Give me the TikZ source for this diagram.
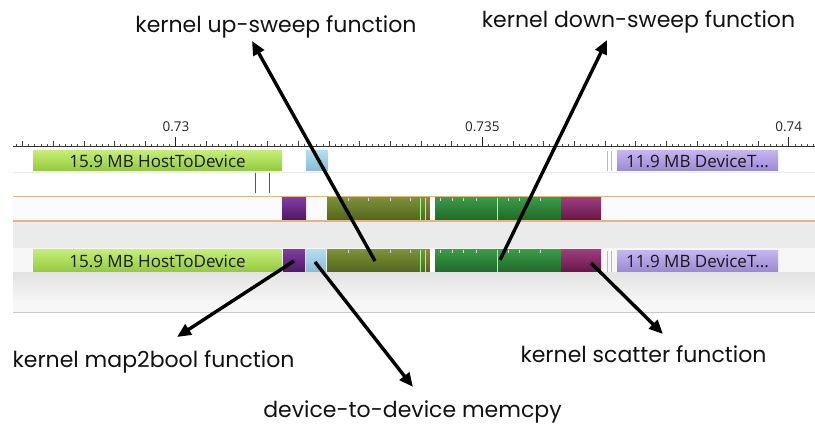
\documentclass[tikz,border=0pt]{standalone}
\usepackage{fontspec}
\setmainfont{Poppins}
\newfontfamily\uifont{Open Sans}
\usetikzlibrary{arrows.meta}
\definecolor{orangeln}{HTML}{E8B47C}
\definecolor{h2dtop}{HTML}{C4EC78}
\definecolor{h2dbot}{HTML}{92CA3C}
\definecolor{cpytop}{HTML}{B4DCEE}
\definecolor{cpybot}{HTML}{88BCD8}
\definecolor{m2btop}{HTML}{7E3CA0}
\definecolor{m2bbot}{HTML}{4E1868}
\definecolor{uptop}{HTML}{7C9038}
\definecolor{upbot}{HTML}{52661C}
\definecolor{dntop}{HTML}{3A9A46}
\definecolor{dnbot}{HTML}{1E6A2A}
\definecolor{sctop}{HTML}{9C3C7C}
\definecolor{scbot}{HTML}{661648}
\definecolor{d2htop}{HTML}{C4B4EE}
\definecolor{d2hbot}{HTML}{9A88D6}
\begin{document}
\begin{tikzpicture}[x=1pt,y=-1pt,
  blk/.style={inner sep=0pt, outer sep=0pt, draw=none, font=\uifont\fontsize{17}{17}\selectfont, text=black!90},
  h2d/.style={blk, top color=h2dtop, bottom color=h2dbot},
  cpy/.style={blk, top color=cpytop, bottom color=cpybot},
  m2b/.style={blk, top color=m2btop, bottom color=m2bbot},
  upk/.style={blk, top color=uptop, bottom color=upbot},
  dnk/.style={blk, top color=dntop, bottom color=dnbot},
  sck/.style={blk, top color=sctop, bottom color=scbot},
  d2h/.style={blk, top color=d2htop, bottom color=d2hbot},
  lbl/.style={anchor=base, inner sep=0pt, font=\fontsize{22}{22}\selectfont, text=black!93},
  tlbl/.style={inner sep=0pt, font=\uifont\fontsize{13.5}{13.5}\selectfont, text=black!85},
  pointer/.style={line width=3.4pt, -{Triangle[length=14pt,width=12pt]}},
  thinln/.style={line width=0.9pt, draw=gray!55},
  wt/.style={white!85!black, line width=0.8pt}]
\useasboundingbox (0,0) rectangle (815,438);
\fill[white] (0,0) rectangle (815,438);
% background bands
\draw[draw=black!8, line width=0.8pt] (13,172) -- (815,172);
\fill[black!7!blue!2] (13,196.5) rectangle (815,221);
\fill[black!8] (13,221) rectangle (815,248);
\fill[black!3] (13,248) rectangle (815,273);
\shade[top color=black!11, bottom color=black!4] (13,273) rectangle (815,300);
\draw[black!17, line width=0.8pt] (13,300) -- (815,300);
\fill[black!3] (13,300.5) rectangle (815,312);
\draw[blue!12!black!22, line width=0.8pt] (13,312.5) -- (815,312.5);
\draw[orangeln, line width=1.8pt] (13,196.5) -- (815,196.5);
\draw[orangeln, line width=1.8pt] (13,221) -- (815,221);
% axis
\draw[black!80, line width=0.9pt] (13,146.5) -- (815,146.5);
\foreach \i in {0,...,130} \draw[black!70, line width=0.6pt] (16.4+\i*6.13,146.5) -- ++(0,-2);
\foreach \j in {0,...,25} \draw[black!75, line width=0.7pt] (22.55+\j*30.65,146.5) -- ++(0,-5);
\foreach \x in {175.8,482.3,788.8} \draw[black!85, line width=0.9pt] (\x,146.5) -- ++(0,-9);
\node[tlbl] (t1) at (176,127) {0.73};
\node[tlbl] (t2) at (482.3,127) {0.735};
\node[tlbl] (t3) at (788.8,127) {0.74};
% row 1
\node[h2d, minimum width=249pt, minimum height=20pt] (h2da) at (157.5,161) {15.9 MB HostToDevice};
\node[cpy, minimum width=22pt, minimum height=20pt] (cpya) at (317,161) {};
\draw[thinln] (607,151) -- (607,171);
\draw[thinln] (611,151) -- (611,171);
\node[d2h, minimum width=161pt, minimum height=20pt] (d2ha) at (697.5,161) {11.9 MB DeviceT...};
% row 2
\draw[black!65, line width=0.9pt] (255,173) -- (255,193);
\draw[black!65, line width=0.9pt] (269,173) -- (269,193);
% row 3
\node[m2b, minimum width=24pt, minimum height=22pt] (m2ba) at (294,209) {};
\node[upk, minimum width=103pt, minimum height=22pt] (upa) at (378.5,209) {};
\node[dnk, minimum width=126pt, minimum height=22pt] (dna) at (498,209) {};
\node[sck, minimum width=40pt, minimum height=22pt] (sca) at (581,209) {};
% row 5
\node[h2d, minimum width=249pt, minimum height=22pt] (h2db) at (157.5,261) {15.9 MB HostToDevice};
\node[m2b, minimum width=22pt, minimum height=22pt] (m2bb) at (294,261) {};
\node[cpy, minimum width=20pt, minimum height=22pt] (cpyb) at (316,261) {};
\node[upk, minimum width=103pt, minimum height=22pt] (upb) at (378.5,261) {};
\node[dnk, minimum width=126pt, minimum height=22pt] (dnb) at (498,261) {};
\node[sck, minimum width=40pt, minimum height=22pt] (scb) at (581,261) {};
\draw[thinln] (607,251) -- (607,272);
\draw[thinln] (611,251) -- (611,272);
\node[d2h, minimum width=161pt, minimum height=21pt] (d2hb) at (697.5,261.5) {11.9 MB DeviceT...};
% kernel tick marks
\foreach \y in {198,250} {
  \foreach \x in {348,368,390,410,440,452,463,476,508,519,540} \draw[wt] (\x,\y) -- ++(0,3);
  \foreach \x in {420,425,497} \draw[wt, draw=white!60!green] (\x,\y) -- ++(0,22);
  \fill[white] (430,\y) rectangle (434.5,\y+22);
}
% labels
\node[lbl] (lup) at (276,33) {kernel up-sweep function};
\node[lbl] (ldn) at (638.5,28) {kernel down-sweep function};
\node[lbl] (lmap) at (153.5,368) {kernel map2bool function};
\node[lbl] (lmem) at (412.5,418) {device-to-device memcpy};
\node[lbl] (lsc) at (643.5,363) {kernel scatter function};
% arrows
\coordinate (aup0) at (375,261);
\coordinate (aup1) at (252,41);
\coordinate (adn0) at (500,260);
\coordinate (adn1) at (607,40);
\coordinate (amap0) at (294,261);
\coordinate (amap1) at (177,337);
\coordinate (amem0) at (315,262);
\coordinate (amem1) at (413,387);
\coordinate (asc0) at (591,263);
\coordinate (asc1) at (663,334);
\draw[pointer] (aup0) -- (aup1);
\draw[pointer] (adn0) -- (adn1);
\draw[pointer] (amap0) -- (amap1);
\draw[pointer] (amem0) -- (amem1);
\draw[pointer] (asc0) -- (asc1);
\end{tikzpicture}
\end{document}
